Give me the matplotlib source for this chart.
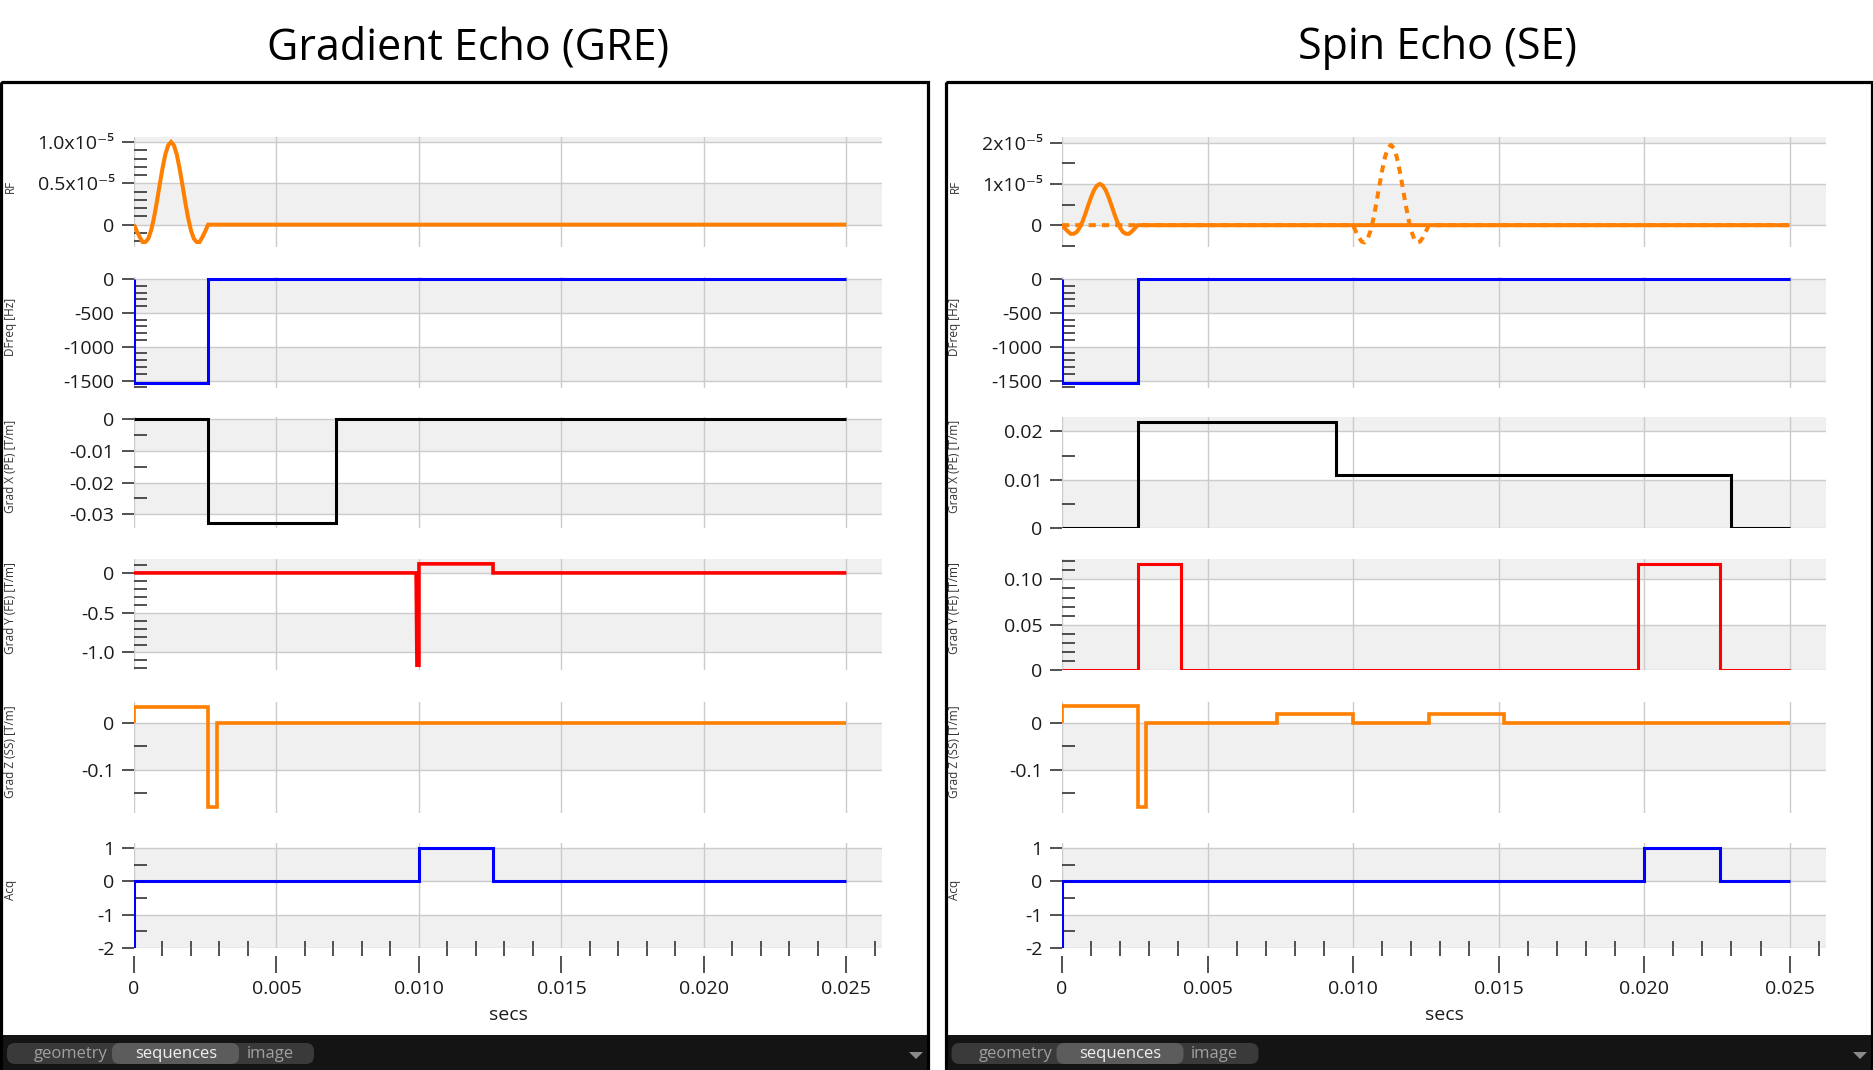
import numpy as np
import matplotlib.pyplot as plt
from matplotlib.patches import Rectangle, FancyBboxPatch, Polygon

plt.rcParams['font.family'] = ['Open Sans', 'DejaVu Sans']

# ---- time axis ----
x_major = [0, 0.005, 0.010, 0.015, 0.020, 0.025]
x_labels = ["0", "0.005", "0.010", "0.015", "0.020", "0.025"]
x_minor = [0.001, 0.002, 0.003, 0.004, 0.006, 0.007, 0.008, 0.009,
           0.011, 0.012, 0.013, 0.014, 0.016, 0.017, 0.018, 0.019,
           0.021, 0.022, 0.023, 0.024, 0.026]

# ---- RF pulses (units of 1e-5) ----
rf90_t = [0.0000, 0.0001, 0.0002, 0.0003, 0.0004, 0.0005, 0.0006, 0.0007,
          0.0008, 0.0009, 0.0010, 0.0011, 0.0012, 0.0013, 0.0014, 0.0015,
          0.0016, 0.0017, 0.0018, 0.0019, 0.0020, 0.0021, 0.0022, 0.0023,
          0.0024, 0.0025, 0.0026, 0.0250]
rf90 = [0.00, -0.08, -0.15, -0.21, -0.21, -0.17, -0.07, 0.08, 0.27, 0.48,
        0.68, 0.85, 0.96, 1.00, 0.96, 0.85, 0.68, 0.48, 0.27, 0.08, -0.07,
        -0.17, -0.21, -0.21, -0.15, -0.08, 0.00, 0.00]
rf180_t = [0.0000, 0.0100, 0.0101, 0.0102, 0.0103, 0.0104, 0.0105, 0.0106,
           0.0107, 0.0108, 0.0109, 0.0110, 0.0111, 0.0112, 0.0113, 0.0114,
           0.0115, 0.0116, 0.0117, 0.0118, 0.0119, 0.0120, 0.0121, 0.0122,
           0.0123, 0.0124, 0.0125, 0.0126, 0.0250]
rf180 = [0.00, 0.00, -0.16, -0.30, -0.40, -0.42, -0.33, -0.14, 0.16, 0.53,
         0.94, 1.33, 1.66, 1.87, 1.95, 1.87, 1.66, 1.33, 0.94, 0.53, 0.16,
         -0.14, -0.33, -0.42, -0.40, -0.30, -0.16, 0.00, 0.00]

# ---- DFreq [Hz] ----
dfreq_t = [0, 0, 0.0026, 0.0026, 0.025]
dfreq = [0, -1540, -1540, 0, 0]

# ---- GRE gradients ----
gre_gx_t = [0, 0.0026, 0.0026, 0.0071, 0.0071, 0.025]
gre_gx = [0, 0, -0.0328, -0.0328, 0, 0]
gre_gy_t = [0, 0.0099, 0.00993, 0.0100, 0.0100, 0.0126, 0.0126, 0.025]
gre_gy = [0, 0, -1.16, -1.16, 0.114, 0.114, 0, 0]
gre_gz_t = [0, 0, 0.0026, 0.0026, 0.0029, 0.0029, 0.025]
gre_gz = [0, 0.036, 0.036, -0.181, -0.181, 0, 0]
gre_acq_t = [0, 0, 0.0100, 0.0100, 0.0126, 0.0126, 0.025]
gre_acq = [-2, 0, 0, 1, 1, 0, 0]

# ---- SE gradients ----
se_gx_t = [0, 0.0026, 0.0026, 0.0094, 0.0094, 0.0230, 0.0230, 0.025]
se_gx = [0, 0, 0.0219, 0.0219, 0.011, 0.011, 0, 0]
se_gy_t = [0, 0.0026, 0.0026, 0.0041, 0.0041, 0.0198, 0.0198, 0.0226, 0.0226, 0.025]
se_gy = [0, 0, 0.117, 0.117, 0, 0, 0.117, 0.117, 0, 0]
se_gz_t = [0, 0, 0.0026, 0.0026, 0.0029, 0.0029, 0.0074, 0.0074, 0.0100,
           0.0100, 0.0126, 0.0126, 0.0152, 0.0152, 0.025]
se_gz = [0, 0.037, 0.037, -0.18, -0.18, 0, 0, 0.019, 0.019, 0, 0, 0.019,
         0.019, 0, 0]
se_acq_t = [0, 0, 0.0200, 0.0200, 0.0226, 0.0226, 0.025]
se_acq = [-2, 0, 0, 1, 1, 0, 0]

ylabels = ["RF", "DFreq [Hz]", "Grad X (PE) [T/m]", "Grad Y (FE) [T/m]",
           "Grad Z (SS) [T/m]", "Acq"]
titles = ["Gradient Echo (GRE)", "Spin Echo (SE)"]

W, H = 1874, 1070
fig = plt.figure(figsize=(W / 100, H / 100), dpi=100)

bg = fig.add_axes([0, 0, 1, 1], zorder=-1)
bg.set_xlim(0, W)
bg.set_ylim(H, 0)
bg.axis('off')

rows = [(137, 247), (277, 388), (417, 528), (559, 670), (702, 813), (843, 948)]
cols = [(134, 882), (1062, 1826)]


def rect(x0, x1, y0, y1):
    return [x0 / W, 1 - y1 / H, (x1 - x0) / W, (y1 - y0) / H]


def panel(col, row, ylim, yt, ytl, ymin, lines, bottom=False):
    ax = fig.add_axes(rect(cols[col][0], cols[col][1], rows[row][0], rows[row][1]))
    ax.set_xlim(0, 0.02625)
    ax.set_ylim(*ylim)
    # alternating bands, starting with the lowest major tick
    for i, lo in enumerate(yt):
        hi = yt[i + 1] if i + 1 < len(yt) else ylim[1]
        if i % 2 == 0:
            ax.axhspan(lo, hi, color='#f0f0f0', lw=0, zorder=0)
    ax.set_yticks(yt, ytl)
    ax.set_yticks(ymin, minor=True)
    ax.set_xticks(x_major, x_labels if bottom else [])
    ax.grid(True, which='major', color='#cbcbcb', lw=1.0)
    ax.set_axisbelow(True)
    for s in ax.spines.values():
        s.set_color('none')
    ax.tick_params(axis='y', which='major', direction='out', length=9,
                   width=1.1, pad=5, labelsize=14, color='#222222',
                   labelcolor='#1a1a1a')
    ax.tick_params(axis='y', which='minor', direction='in', length=9.5,
                   width=1.1, color='#222222')
    if bottom:
        ax.set_xticks(x_minor, minor=True)
        ax.spines['bottom'].set_position(('outward', 6))
        ax.tick_params(axis='x', which='major', direction='out', length=12,
                       width=1.1, pad=5, labelsize=14, color='#222222',
                       labelcolor='#1a1a1a')
        ax.tick_params(axis='x', which='minor', direction='in', length=11,
                       width=1.1, color='#222222')
    else:
        ax.tick_params(axis='x', which='both', bottom=False, labelbottom=False)
    for t, v, c, lw, ls in lines:
        ax.plot(t, v, color=c, lw=lw, ls=ls, solid_joinstyle='miter',
                solid_capstyle='butt', zorder=3)
    return ax


ORANGE = '#ff7f00'
BLUE = '#0000ff'
RED = '#ff0000'
s = 1e-5

# ---- GRE column ----
panel(0, 0, (-0.27 * s, 1.06 * s), [0, 0.5 * s, 1.0 * s],
      ["0", "0.5x10⁻⁵", "1.0x10⁻⁵"],
      [v * s for v in [-0.2, -0.1, 0.1, 0.2, 0.3, 0.4, 0.6, 0.7, 0.8, 0.9]],
      [(rf90_t, np.array(rf90) * s, ORANGE, 2.9, '-')])
dfreq_minor = [-1600, -1400, -1300, -1200, -1100, -900, -800, -700, -600,
               -400, -300, -200, -100]
panel(0, 1, (-1610, 30), [-1500, -1000, -500, 0], ["-1500", "-1000", "-500", "0"],
      dfreq_minor, [(dfreq_t, dfreq, BLUE, 2.2, '-')])
panel(0, 2, (-0.0343, 0.0006), [-0.03, -0.02, -0.01, 0],
      ["-0.03", "-0.02", "-0.01", "0"], [-0.025, -0.015, -0.005],
      [(gre_gx_t, gre_gx, 'black', 2.2, '-')])
panel(0, 3, (-1.22, 0.175), [-1.0, -0.5, 0], ["-1.0", "-0.5", "0"],
      [-1.2, -1.1, -0.9, -0.8, -0.7, -0.6, -0.4, -0.3, -0.2, -0.1, 0.1],
      [(gre_gy_t, gre_gy, RED, 2.6, '-')])
panel(0, 4, (-0.194, 0.046), [-0.1, 0], ["-0.1", "0"], [-0.15, -0.05],
      [(gre_gz_t, gre_gz, ORANGE, 2.6, '-')])
panel(0, 5, (-2, 1.15), [-2, -1, 0, 1], ["-2", "-1", "0", "1"], [-1.5, -0.5, 0.5],
      [(gre_acq_t, gre_acq, BLUE, 2.2, '-')], bottom=True)

# ---- SE column ----
panel(1, 0, (-0.53 * s, 2.14 * s), [0, 1.0 * s, 2.0 * s],
      ["0", "1x10⁻⁵", "2x10⁻⁵"], [v * s for v in [-0.5, 0.5, 1.5]],
      [(rf180_t, np.array(rf180) * s, ORANGE, 2.9, (0, (1.8, 1.5))),
       (rf90_t, np.array(rf90) * s, ORANGE, 2.9, '-')])
panel(1, 1, (-1610, 30), [-1500, -1000, -500, 0], ["-1500", "-1000", "-500", "0"],
      dfreq_minor, [(dfreq_t, dfreq, BLUE, 2.2, '-')])
panel(1, 2, (0, 0.023), [0, 0.01, 0.02], ["0", "0.01", "0.02"], [0.005, 0.015],
      [(se_gx_t, se_gx, 'black', 2.2, '-')])
panel(1, 3, (0, 0.1225), [0, 0.05, 0.10], ["0", "0.05", "0.10"],
      [0.01, 0.02, 0.03, 0.04, 0.06, 0.07, 0.08, 0.09, 0.11, 0.12],
      [(se_gy_t, se_gy, RED, 2.2, '-')])
panel(1, 4, (-0.194, 0.046), [-0.1, 0], ["-0.1", "0"], [-0.15, -0.05],
      [(se_gz_t, se_gz, ORANGE, 2.6, '-')])
panel(1, 5, (-2, 1.15), [-2, -1, 0, 1], ["-2", "-1", "0", "1"], [-1.5, -0.5, 0.5],
      [(se_acq_t, se_acq, BLUE, 2.2, '-')], bottom=True)

# ---- window decorations ----
frames = [(1.5, 928), (946, 1872)]
title_x = [468, 1438]
for k, (fx0, fx1) in enumerate(frames):
    off = fx0 - 1.5
    bg.text(title_x[k], 48, titles[k], fontsize=31, ha='center', va='center',
            color='black')
    bg.add_patch(Rectangle((fx0 + 1, 1035), fx1 - fx0 - 2, 36, color='#141414', lw=0))
    bg.add_patch(Rectangle((fx0, 82), fx1 - fx0, 990, fill=False,
                           ec='black', lw=2.3))
    bg.add_patch(FancyBboxPatch((7 + off, 1043), 307, 21,
                                boxstyle='round,pad=0,rounding_size=8',
                                fc='#3a3a3a', ec='none'))
    bg.add_patch(FancyBboxPatch((112 + off, 1043), 127, 21,
                                boxstyle='round,pad=0,rounding_size=8',
                                fc='#5c5c5c', ec='none'))
    bg.text(71 + off, 1054, "geometry", fontsize=12, color='#a0a0a0',
            ha='center', va='center')
    bg.text(176 + off, 1054, "sequences", fontsize=12, color='#f2f2f2',
            ha='center', va='center')
    bg.text(270 + off, 1054, "image", fontsize=12, color='#a0a0a0',
            ha='center', va='center')
    ax_r = fx1 - 12
    bg.add_patch(Polygon([(ax_r - 7, 1052), (ax_r + 7, 1052), (ax_r, 1059)],
                         closed=True, fc='#8a8a8a', ec='none'))
    cx = (cols[k][0] + cols[k][1]) / 2
    bg.text(cx, 1015, "secs", fontsize=14, ha='center', va='center',
            color='#1a1a1a')
    for r, lab in enumerate(ylabels):
        bg.text(fx0 + 9, (rows[r][0] + rows[r][1]) / 2 - 6, lab, rotation=90,
                fontsize=8.5, ha='center', va='center', color='#333333')

fig.savefig('out.png', dpi=100)
